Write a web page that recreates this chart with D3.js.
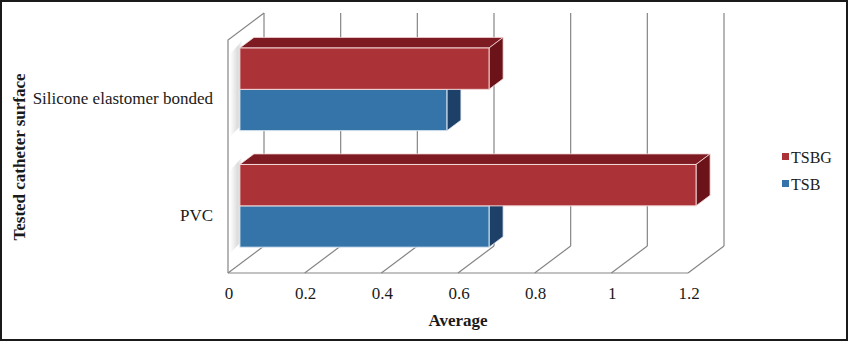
<!DOCTYPE html>
<html><head><meta charset="utf-8">
<script src="https://cdn.jsdelivr.net/npm/d3@7"></script>
<style>html,body{margin:0;padding:0;background:#fff}svg{display:block}</style>
</head><body>
<script>
const categories = ["Silicone elastomer bonded", "PVC"];
const seriesNames = ["TSB", "TSBG"];
const tsbValues = [0.54, 0.65];
const tsbgValues = [0.65, 1.19];
const xTicks = [0, 0.2, 0.4, 0.6, 0.8, 1, 1.2];
const xTickLabels = ["0", "0.2", "0.4", "0.6", "0.8", "1", "1.2"];
const colors = {
  TSB: {front: "#3574A9", side: "#1D4068", top: "#245287"},
  TSBG: {front: "#AB3236", side: "#6C1319", top: "#7E1B22"}
};

(function () {
const W = 848, H = 341;
const svg = d3.select("body").append("svg").attr("width", W).attr("height", H);
svg.append("rect").attr("x", 1).attr("y", 1).attr("width", W - 2).attr("height", H - 2)
  .attr("fill", "#fff").attr("stroke", "#1a1a1a").attr("stroke-width", 2);

const plotLeft = 228, plotBottom = 273, plotTop = 40;
const depth = {dx: 36, dy: -27};
const x = d3.scaleLinear().domain([0, 1.2]).range([plotLeft, plotLeft + 460]);
const y = d3.scaleBand().domain(categories).range([plotTop, plotBottom]).paddingInner(0.29).paddingOuter(0.145);
const d1 = 0.33, d2 = 0.72;
const off1 = {dx: depth.dx * d1, dy: depth.dy * d1};
const off2 = {dx: depth.dx * d2, dy: depth.dy * d2};
const gridColor = "#858585";

const defs = svg.append("defs");
const grad = defs.append("linearGradient").attr("id", "wallShade").attr("x1", 0).attr("x2", 1).attr("y1", 0).attr("y2", 0);
grad.append("stop").attr("offset", "0%").attr("stop-color", "#ffffff");
grad.append("stop").attr("offset", "65%").attr("stop-color", "#c4c4c4");
grad.append("stop").attr("offset", "100%").attr("stop-color", "#f0f0f0");

const g = svg.append("g");
g.selectAll("line.grid").data(xTicks).join("line").attr("class", "grid")
  .attr("x1", d => x(d) + depth.dx).attr("x2", d => x(d) + depth.dx)
  .attr("y1", plotTop + depth.dy).attr("y2", plotBottom + depth.dy)
  .attr("stroke", gridColor).attr("stroke-width", 1.2);
g.selectAll("line.floor").data(xTicks).join("line").attr("class", "floor")
  .attr("x1", d => x(d)).attr("x2", d => x(d) + depth.dx)
  .attr("y1", plotBottom).attr("y2", plotBottom + depth.dy)
  .attr("stroke", gridColor).attr("stroke-width", 1.2);
g.append("line").attr("x1", x(0)).attr("x2", x(1.2)).attr("y1", plotBottom).attr("y2", plotBottom)
  .attr("stroke", gridColor).attr("stroke-width", 1.2);
g.append("path").attr("d", `M${x(0)},${plotBottom}L${x(0)},${plotTop}L${x(0) + depth.dx},${plotTop + depth.dy}`)
  .attr("fill", "none").attr("stroke", gridColor).attr("stroke-width", 1.2);

categories.forEach(c => {
  const t = y(c) + off1.dy, b = y(c) + y.bandwidth() + off1.dy;
  const x0 = x(0) + 2, x1 = x(0) + off1.dx + 2;
  g.append("path")
    .attr("d", `M${x0},${t + 6}L${x1},${t - 7}L${x1},${b - 6}L${x0},${b + 6}Z`)
    .attr("fill", "url(#wallShade)").attr("opacity", 0.6);
});

const half = y.bandwidth() / 2;
const barData = [];
categories.forEach((c, i) => {
  barData.push({cat: c, s: "TSB", v: tsbValues[i], y0: y(c) + half, y1: y(c) + y.bandwidth()});
  barData.push({cat: c, s: "TSBG", v: tsbgValues[i], y0: y(c), y1: y(c) + half});
});
const bars = g.selectAll("g.bar").data(barData).join("g").attr("class", "bar");
bars.each(function (d) {
  const gg = d3.select(this);
  const xa = x(0) + off1.dx, xb = x(d.v) + off1.dx;
  const ya = d.y0 + off1.dy, yb = d.y1 + off1.dy;
  const ddx = off2.dx - off1.dx, ddy = off2.dy - off1.dy;
  const col = colors[d.s];
  const stroke = d.s === "TSBG" ? "#f2d6d6" : "#dfe9f3";
  gg.append("path").attr("d", `M${xa},${ya}L${xa + ddx},${ya + ddy}L${xb + ddx},${ya + ddy}L${xb},${ya}Z`)
    .attr("fill", col.top).attr("stroke", stroke).attr("stroke-width", 0.8);
  gg.append("path").attr("d", `M${xb},${ya}L${xb + ddx},${ya + ddy}L${xb + ddx},${yb + ddy}L${xb},${yb}Z`)
    .attr("fill", col.side).attr("stroke", stroke).attr("stroke-width", 0.8);
  gg.append("rect").attr("x", xa).attr("y", ya).attr("width", xb - xa).attr("height", yb - ya)
    .attr("fill", col.front).attr("stroke", stroke).attr("stroke-width", 1);
});

const font = "'Liberation Serif', 'Times New Roman', serif";
g.selectAll("text.xt").data(xTicks).join("text").attr("class", "xt")
  .attr("x", d => x(d) + 1).attr("y", 299).attr("text-anchor", "middle")
  .attr("font-family", font).attr("font-size", 17).attr("fill", "#1a1a1a")
  .text((d, i) => xTickLabels[i]);
g.selectAll("text.yt").data(categories).join("text").attr("class", "yt")
  .attr("x", 213).attr("y", d => y(d) + half + 6).attr("text-anchor", "end")
  .attr("font-family", font).attr("font-size", 17).attr("fill", "#1a1a1a")
  .text(d => d);
svg.append("text").attr("x", 458).attr("y", 326).attr("text-anchor", "middle")
  .attr("font-family", font).attr("font-size", 17).attr("font-weight", "bold").attr("fill", "#1a1a1a")
  .text("Average");
svg.append("text").attr("transform", "translate(25,157) rotate(-90)").attr("text-anchor", "middle")
  .attr("font-family", font).attr("font-size", 17).attr("font-weight", "bold").attr("fill", "#1a1a1a")
  .text("Tested catheter surface");

const legendItems = ["TSBG", "TSB"];
const lg = svg.selectAll("g.legend").data(legendItems).join("g").attr("class", "legend")
  .attr("transform", (d, i) => `translate(782,${157 + i * 27})`);
lg.append("rect").attr("x", 0).attr("y", -4).attr("width", 7).attr("height", 7)
  .attr("fill", d => colors[d].front);
lg.append("text").attr("x", 9).attr("y", 5.5).attr("font-family", font).attr("font-size", 16)
  .attr("fill", "#1a1a1a").text(d => d);
})();
</script>
</body></html>
